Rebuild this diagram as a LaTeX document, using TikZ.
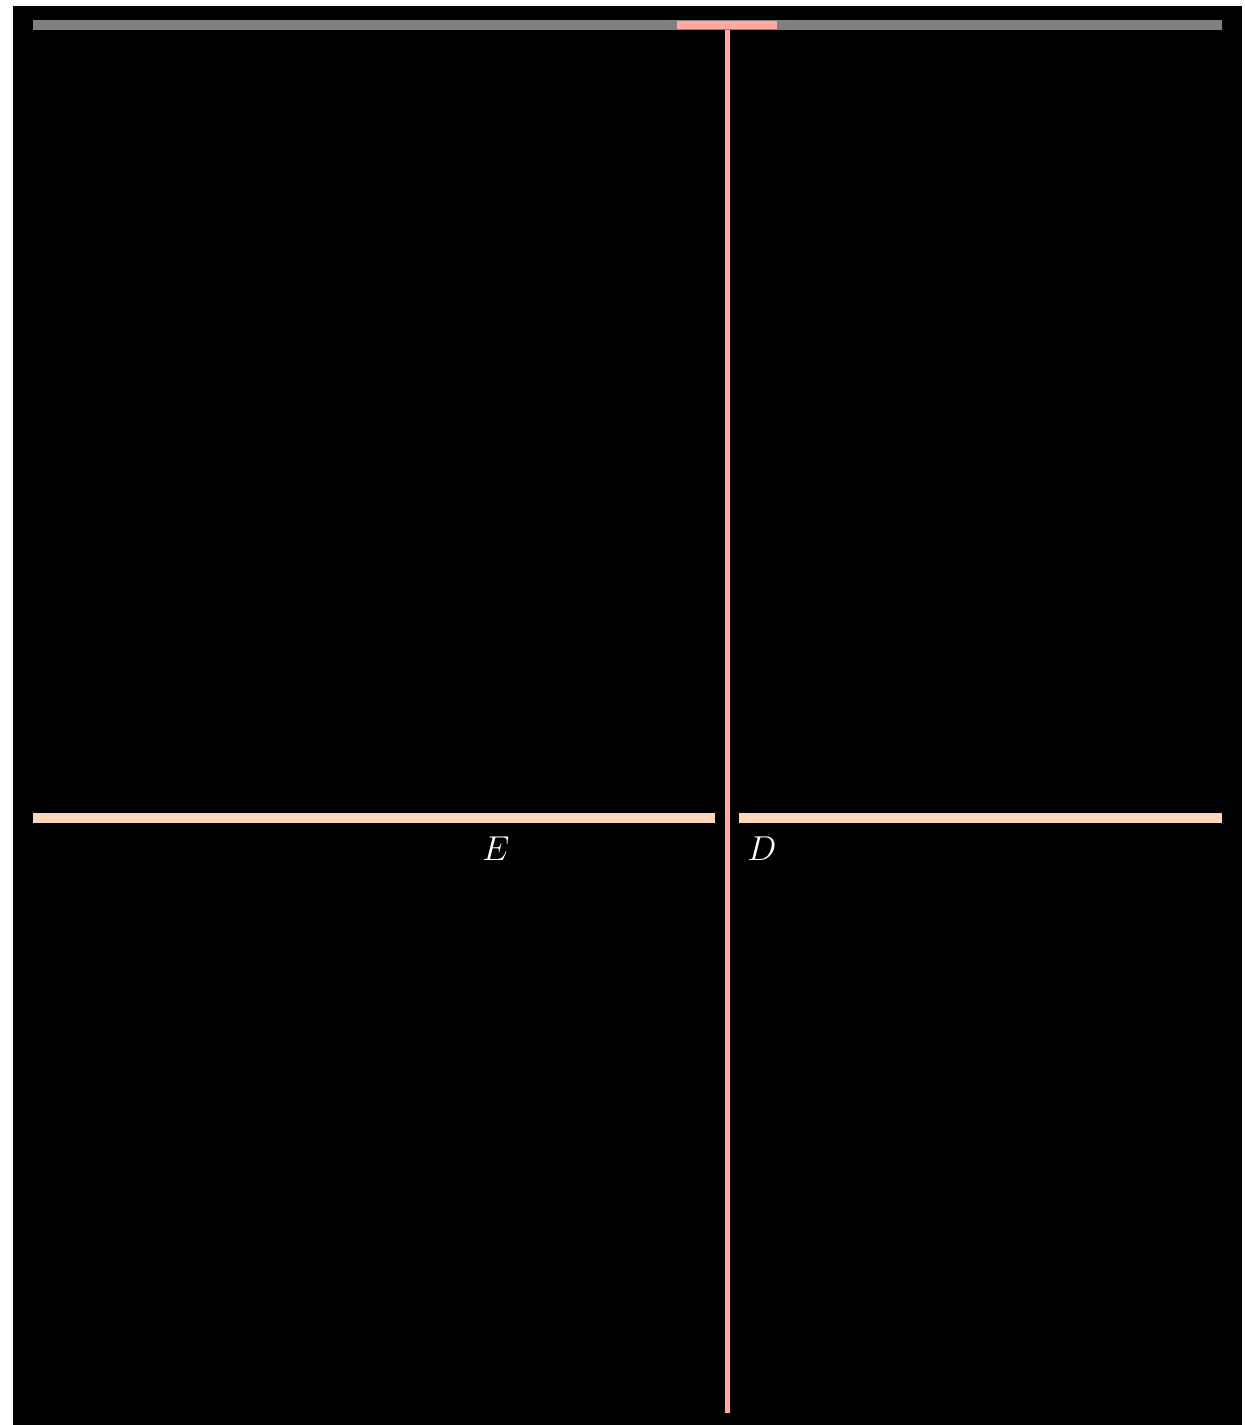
\documentclass[tikz,border=0pt]{standalone}
\definecolor{graybar}{HTML}{808080}
\definecolor{pinkc}{HTML}{FFA9A0}
\definecolor{peach}{HTML}{FFD6BA}
\begin{document}
\begin{tikzpicture}[x=0.5pt,y=-0.5pt,
  lbl/.style={text=white,inner sep=0pt,font=\fontsize{16.8}{20}\selectfont}]
\useasboundingbox (0,0) rectangle (1245,1425);
\fill[white] (0,0) rectangle (1245,1425);
\fill[black] (13,6) rectangle (1242,1425);
% top gray rail
\fill[graybar] (33,20) rectangle (1222,30);
\fill[pinkc] (677,21) rectangle (777,29);
% vertical stem
\fill[pinkc] (724.5,30) rectangle (729.5,1413);
% horizontal bars
\fill[peach] (33,813) rectangle (715,823);
\fill[peach] (739,813) rectangle (1222,823);
% labels
\node[lbl] (E) at (496,849) {$E$};
\node[lbl] (D) at (762,849) {$D$};
\end{tikzpicture}
\end{document}
